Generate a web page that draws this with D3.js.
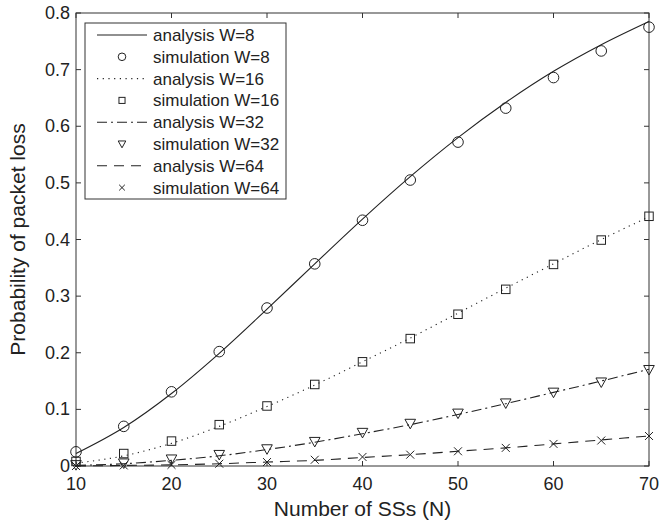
<!DOCTYPE html>
<html>
<head>
    <script src="https://d3js.org/d3.v7.min.js"></script>
    <style>
        body {margin: 0; background: white; font-family: "Liberation Sans", Arial, Helvetica, sans-serif;}
        .frame { fill: none; stroke: #333; stroke-width: 1px; }
        .tick-label { font-size: 18px; fill: #222; }
        .axis-title { font-size: 21px; fill: #222; }
        .legend-text { font-size: 17px; fill: #222; }
        .curve { fill: none; stroke: #222; stroke-width: 1.1px; }
        .marker { fill: none; stroke: #222; stroke-width: 1px; }
    </style>
</head>
<body>
    <svg width="662" height="523"></svg>
    <script>
        // x values (number of SSs)
        let nValues = [10, 15, 20, 25, 30, 35, 40, 45, 50, 55, 60, 65, 70];
        let xTicks = [10, 20, 30, 40, 50, 60, 70];
        let yTicks = [0, 0.1, 0.2, 0.3, 0.4, 0.5, 0.6, 0.7, 0.8];

        // analysis curves
        let analysisW8  = [0.022, 0.068, 0.128, 0.199, 0.277, 0.357, 0.436, 0.511, 0.580, 0.642, 0.697, 0.744, 0.785];
        let analysisW16 = [0.005, 0.018, 0.040, 0.070, 0.105, 0.143, 0.184, 0.226, 0.270, 0.314, 0.357, 0.400, 0.440];
        let analysisW32 = [0.001, 0.004, 0.010, 0.018, 0.029, 0.042, 0.057, 0.073, 0.091, 0.110, 0.130, 0.150, 0.171];
        let analysisW64 = [0.000, 0.001, 0.002, 0.004, 0.007, 0.010, 0.015, 0.020, 0.026, 0.032, 0.039, 0.046, 0.053];

        // simulation points
        let simW8  = [0.025, 0.070, 0.131, 0.202, 0.279, 0.357, 0.434, 0.505, 0.572, 0.632, 0.686, 0.733, 0.775];
        let simW16 = [0.008, 0.022, 0.044, 0.073, 0.106, 0.144, 0.184, 0.225, 0.268, 0.312, 0.356, 0.399, 0.441];
        let simW32 = [0.002, 0.005, 0.012, 0.020, 0.030, 0.043, 0.059, 0.075, 0.093, 0.111, 0.130, 0.148, 0.170];
        let simW64 = [0.000, 0.001, 0.002, 0.004, 0.007, 0.011, 0.016, 0.020, 0.026, 0.032, 0.039, 0.045, 0.053];

        let legendLabels = ["analysis W=8", "simulation W=8", "analysis W=16", "simulation W=16",
                            "analysis W=32", "simulation W=32", "analysis W=64", "simulation W=64"];

        let series = [
            { analysis: analysisW8,  sim: simW8,  dash: null,          marker: "circle" },
            { analysis: analysisW16, sim: simW16, dash: "1.2,4.5",     marker: "square" },
            { analysis: analysisW32, sim: simW32, dash: "10,4,2,4",    marker: "triangle" },
            { analysis: analysisW64, sim: simW64, dash: "10,7",        marker: "cross" }
        ];

        let margin = {left: 76, top: 13, right: 13, bottom: 57};
        let width = 662 - margin.left - margin.right;
        let height = 523 - margin.top - margin.bottom;

        let svg = d3.select("svg");
        let g = svg.append("g").attr("transform", `translate(${margin.left},${margin.top})`);

        let x = d3.scaleLinear().domain([10, 70]).range([0, width]);
        let y = d3.scaleLinear().domain([0, 0.8]).range([height, 0]);

        // box with inward ticks on all sides
        g.append("rect").attr("class", "frame").attr("width", width).attr("height", height);
        let tickLen = 5;
        xTicks.forEach(t => {
            g.append("line").attr("class", "frame").attr("x1", x(t)).attr("x2", x(t)).attr("y1", height).attr("y2", height - tickLen);
            g.append("line").attr("class", "frame").attr("x1", x(t)).attr("x2", x(t)).attr("y1", 0).attr("y2", tickLen);
            g.append("text").attr("class", "tick-label").attr("x", x(t)).attr("y", height + 24)
                .attr("text-anchor", "middle").text(t);
        });
        yTicks.forEach(t => {
            g.append("line").attr("class", "frame").attr("x1", 0).attr("x2", tickLen).attr("y1", y(t)).attr("y2", y(t));
            g.append("line").attr("class", "frame").attr("x1", width).attr("x2", width - tickLen).attr("y1", y(t)).attr("y2", y(t));
            g.append("text").attr("class", "tick-label").attr("x", -6).attr("y", y(t) + 6)
                .attr("text-anchor", "end").text(t === 0 ? "0" : d3.format(".1f")(t));
        });

        // axis titles
        svg.append("text").attr("class", "axis-title").attr("x", margin.left + width / 2).attr("y", 516)
            .attr("text-anchor", "middle").text("Number of SSs (N)");
        svg.append("text").attr("class", "axis-title")
            .attr("transform", `translate(25,${margin.top + height / 2}) rotate(-90)`)
            .attr("text-anchor", "middle").text("Probability of packet loss");

        // marker drawing
        function drawMarker(sel, type, cx, cy, s) {
            if (type === "circle") {
                sel.append("circle").attr("class", "marker").attr("cx", cx).attr("cy", cy).attr("r", s);
            } else if (type === "square") {
                sel.append("rect").attr("class", "marker").attr("x", cx - s * 0.8).attr("y", cy - s * 0.8)
                    .attr("width", s * 1.6).attr("height", s * 1.6);
            } else if (type === "triangle") {
                sel.append("path").attr("class", "marker")
                    .attr("d", `M${cx - s},${cy - s * 0.8}L${cx + s},${cy - s * 0.8}L${cx},${cy + s}Z`);
            } else {
                let h = s * 0.75;
                sel.append("path").attr("class", "marker")
                    .attr("d", `M${cx - h},${cy - h}L${cx + h},${cy + h}M${cx - h},${cy + h}L${cx + h},${cy - h}`);
            }
        }

        let line = d3.line().x((d, i) => x(nValues[i])).y(d => y(d)).curve(d3.curveMonotoneX);

        series.forEach(s => {
            g.append("path").attr("class", "curve").attr("d", line(s.analysis))
                .attr("stroke-dasharray", s.dash);
            s.sim.forEach((v, i) => drawMarker(g, s.marker, x(nValues[i]), y(v), 5.3));
        });

        // legend
        let lg = svg.append("g").attr("transform", "translate(85,23)");
        lg.append("rect").attr("width", 201).attr("height", 176).attr("fill", "white").attr("stroke", "#333");
        legendLabels.forEach((lab, i) => {
            let cy = 12 + i * 21.8;
            let s = series[Math.floor(i / 2)];
            if (i % 2 === 0) {
                lg.append("line").attr("class", "curve").attr("x1", 12).attr("x2", 62).attr("y1", cy).attr("y2", cy)
                    .attr("stroke-dasharray", s.dash);
            } else {
                drawMarker(lg, s.marker, 37, cy, 3.8);
            }
            lg.append("text").attr("class", "legend-text").attr("x", 68).attr("y", cy + 6).text(lab);
        });
    </script>
</body>
</html>
